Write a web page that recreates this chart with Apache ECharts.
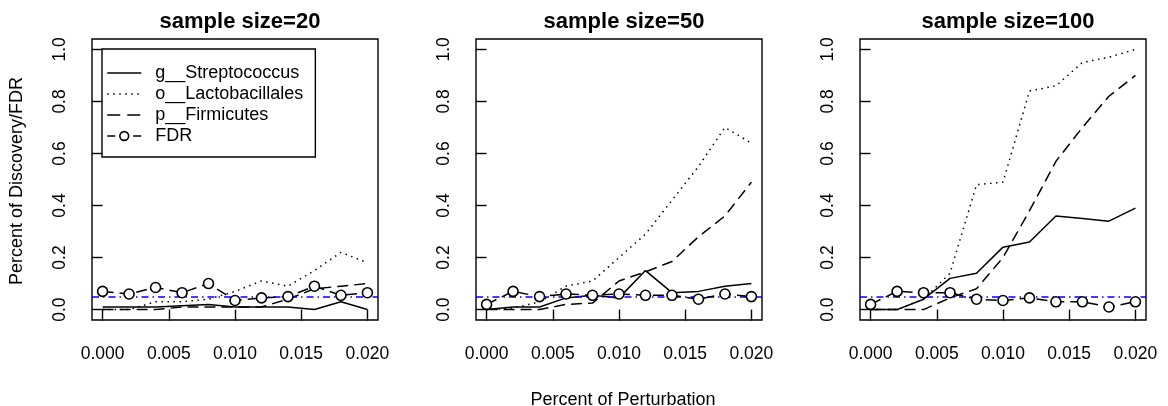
<!DOCTYPE html>
<html><head><meta charset="utf-8">
<script src="https://cdn.jsdelivr.net/npm/echarts@6/dist/echarts.min.js"></script>
<style>html,body{margin:0;padding:0;background:#fff}#c{width:1168px;height:406px}</style>
</head><body><div id="c"></div>
<script>
const xs = [0, 0.002, 0.004, 0.006, 0.008, 0.010, 0.012, 0.014, 0.016, 0.018, 0.020];
const titles = ['sample size=20', 'sample size=50', 'sample size=100'];
const seriesNames = ['g__Streptococcus', 'o__Lactobacillales', 'p__Firmicutes', 'FDR'];
const xTicks = [0, 0.005, 0.010, 0.015, 0.020];
const yTicks = [0, 0.2, 0.4, 0.6, 0.8, 1.0];
const fdrLevel = 0.05;

const strep20 = [0.01, 0.01, 0.01, 0.015, 0.02, 0.01, 0.01, 0.01, 0.0, 0.03, 0.0];
const lacto20 = [0.0, 0.0, 0.03, 0.03, 0.04, 0.07, 0.11, 0.09, 0.15, 0.22, 0.18];
const firm20  = [0.0, 0.0, 0.0, 0.01, 0.01, 0.01, 0.01, 0.04, 0.08, 0.09, 0.10];
const fdr20   = [0.07, 0.06, 0.085, 0.065, 0.10, 0.035, 0.045, 0.05, 0.09, 0.055, 0.065];

const strep50 = [0.0, 0.01, 0.01, 0.045, 0.055, 0.045, 0.15, 0.065, 0.07, 0.09, 0.10];
const lacto50 = [0.0, 0.005, 0.03, 0.09, 0.11, 0.20, 0.29, 0.42, 0.55, 0.70, 0.64];
const firm50  = [0.0, 0.0, 0.0, 0.02, 0.025, 0.11, 0.145, 0.185, 0.28, 0.36, 0.49];
const fdr50   = [0.02, 0.07, 0.05, 0.06, 0.055, 0.06, 0.055, 0.055, 0.04, 0.06, 0.05];

const strep100 = [0.0, 0.0, 0.04, 0.12, 0.14, 0.24, 0.26, 0.36, 0.35, 0.34, 0.39];
const lacto100 = [0.0, 0.0, 0.04, 0.14, 0.48, 0.49, 0.84, 0.86, 0.95, 0.97, 1.0];
const firm100  = [0.0, 0.0, 0.0, 0.045, 0.08, 0.20, 0.38, 0.57, 0.70, 0.82, 0.90];
const fdr100   = [0.02, 0.07, 0.065, 0.065, 0.04, 0.035, 0.045, 0.03, 0.03, 0.01, 0.03];

const panels = [
  [strep20, lacto20, firm20, fdr20],
  [strep50, lacto50, firm50, fdr50],
  [strep100, lacto100, firm100, fdr100]
];

const FONT = '"Liberation Sans", Arial, Helvetica, sans-serif';
const gridLefts = [92, 476, 860];
const gridW = 286, gridTop = 39, gridH = 281;

const dashTypes = ['solid', [1.5, 4.5], [11, 6], [11, 6]];

const chart = echarts.init(document.getElementById('c'), null, {renderer: 'canvas'});
const grid = [], xAxis = [], yAxis = [], series = [], title = [];
panels.forEach((p, i) => {
  grid.push({left: gridLefts[i], top: gridTop, width: gridW, height: gridH, show: true,
    borderColor: '#000', borderWidth: 1.4, backgroundColor: 'transparent', containLabel: false});
  xAxis.push({type: 'value', gridIndex: i, min: -0.0008, max: 0.0208,
    axisLine: {show: false}, splitLine: {show: false},
    axisTick: {show: true, customValues: xTicks, length: 11, lineStyle: {color: '#000', width: 1.4}},
    axisLabel: {customValues: xTicks, formatter: v => v.toFixed(3), color: '#000', fontSize: 17.5, fontFamily: FONT, margin: 25}
  });
  yAxis.push({type: 'value', gridIndex: i, min: -0.04, max: 1.04,
    axisLine: {show: false}, splitLine: {show: false},
    axisTick: {show: true, customValues: yTicks, length: 11, lineStyle: {color: '#000', width: 1.4}},
    axisLabel: {customValues: yTicks, formatter: v => v.toFixed(1), rotate: 90, color: '#000', fontSize: 17.5, fontFamily: FONT, margin: 23}
  });
  title.push({text: titles[i], left: gridLefts[i] + gridW / 2, top: 6, textAlign: 'center',
    textStyle: {fontSize: 22, fontWeight: 'bold', color: '#000', fontFamily: FONT}});
  p.forEach((vals, k) => {
    const isFdr = k === 3;
    series.push({
      name: seriesNames[k], type: 'line', xAxisIndex: i, yAxisIndex: i,
      data: xs.map((x, j) => [x, vals[j]]),
      symbol: isFdr ? 'circle' : 'none', symbolSize: 10, showSymbol: isFdr,
      itemStyle: {color: '#fff', borderColor: '#000', borderWidth: 1.6},
      lineStyle: {color: '#000', width: 1.5, type: dashTypes[k]},
      silent: true, animation: false, z: 2 + k
    });
  });
  series.push({
    name: 'level', type: 'line', xAxisIndex: i, yAxisIndex: i, data: [], silent: true, animation: false, z: 10,
    markLine: {symbol: 'none', silent: true, animation: false, label: {show: false},
      lineStyle: {color: '#0000ff', width: 1.5, type: [7, 4, 1.5, 4]},
      data: [{yAxis: fdrLevel}]}
  });
});
title.push({text: 'Percent of Perturbation', left: 618, top: 386, textAlign: 'center',
  textStyle: {fontSize: 18, fontWeight: 'normal', color: '#000', fontFamily: FONT}});

const legendData = seriesNames.map((n, k) => {
  if (k === 3) {
    return {name: n, itemStyle: {color: '#fff', borderColor: '#000', borderWidth: 1.6},
      lineStyle: {color: '#000', width: 1.5, type: [8, 18]}};
  }
  return {name: n, itemStyle: {opacity: 0}, lineStyle: {color: '#000', width: 1.5, type: k === 2 ? [13, 7] : dashTypes[k]}};
});

chart.setOption({
  animation: false,
  backgroundColor: '#fff',
  title: title,
  grid: grid, xAxis: xAxis, yAxis: yAxis, series: series,
  legend: {
    data: legendData,
    orient: 'vertical', left: 102, top: 49,
    borderColor: '#000', borderWidth: 1.4, padding: [15, 12, 12, 4.5], itemGap: 3,
    itemWidth: 34, itemHeight: 11, selectedMode: false,
    textStyle: {fontSize: 18, color: '#000', fontFamily: FONT, padding: [0, 0, 0, 9]}
  },
  graphic: [{type: 'text', x: 17, y: 181, rotation: Math.PI / 2,
    style: {text: 'Percent of Discovery/FDR', fontSize: 18, fontFamily: FONT, fill: '#000', align: 'center', verticalAlign: 'middle'}}]
});
</script></body></html>
